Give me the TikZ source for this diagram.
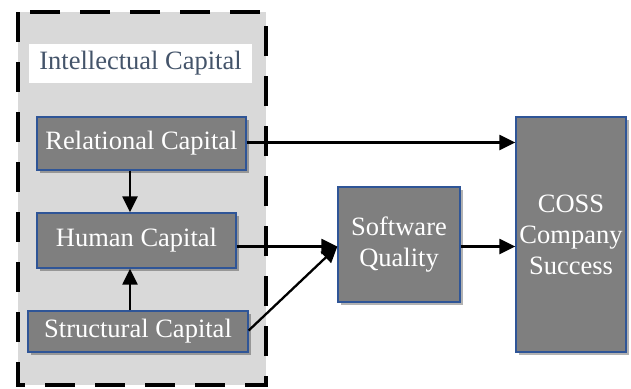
\documentclass[tikz,border=0pt]{standalone}
\usepackage{fontspec}
\setmainfont{Liberation Serif}
\usetikzlibrary{arrows.meta,shadows,calc}
\definecolor{panelgray}{HTML}{D9D9D9}
\definecolor{boxgray}{HTML}{7F7F7F}
\definecolor{boxblue}{HTML}{2F5597}
\definecolor{titleblue}{HTML}{44546A}
\tikzset{
  box/.style={draw=boxblue, line width=1.3pt, fill=boxgray, text=white, inner sep=0pt,
    align=center, font=\fontsize{26.5}{31}\selectfont,
    drop shadow={shadow xshift=2.5pt, shadow yshift=-2.5pt, opacity=0.3, fill=black}},
  conn/.style={line width=2.3pt, -{Triangle[length=16pt,width=15pt]}},
  panel/.style={fill=panelgray, draw=black, line width=4.5pt, dash pattern=on 30pt off 20pt},
  titlebox/.style={fill=white, text=titleblue, inner sep=0pt, font=\fontsize{26.5}{31}\selectfont}
}
\begin{document}
\begin{tikzpicture}[x=1pt,y=-1pt]
\useasboundingbox (0,0) rectangle (631,388);
\fill[white] (0,0) rectangle (631,388);
\draw[panel] (18,12) rectangle (266,385);
\node[titlebox, minimum width=223pt, minimum height=39pt] (title) at (140.5,63.5) {Intellectual Capital};
\node[box, minimum width=209pt, minimum height=53pt] (rel) at (141.5,143.5) {Relational Capital};
\node[box, minimum width=199pt, minimum height=55pt] (hum) at (136.5,240.5) {Human Capital};
\node[box, minimum width=220pt, minimum height=41pt] (str) at (138,331.5) {Structural Capital};
\node[box, minimum width=122pt, minimum height=115pt] (sq) at (399,244.5) {Software\\Quality};
\node[box, minimum width=110pt, minimum height=235pt] (coss) at (571,234.5) {COSS\\Company\\Success};
\coordinate (sqin) at ([yshift=-2pt]sq.west);
\draw[conn] ([yshift=1pt]rel.east) -- ([yshift=1pt]rel.east -| coss.west);
\draw[conn] ([xshift=-11.5pt]rel.south) -- ([xshift=-6.5pt]hum.north);
\draw[conn] ([xshift=-8pt]str.north) -- ([xshift=-6.5pt]hum.south);
\draw[conn] (hum.east |- sqin) -- (sqin);
\draw[conn] ([yshift=1pt]str.east) -- (sqin);
\draw[conn] (sq.east |- sqin) -- (sqin -| coss.west);
\end{tikzpicture}
\end{document}
